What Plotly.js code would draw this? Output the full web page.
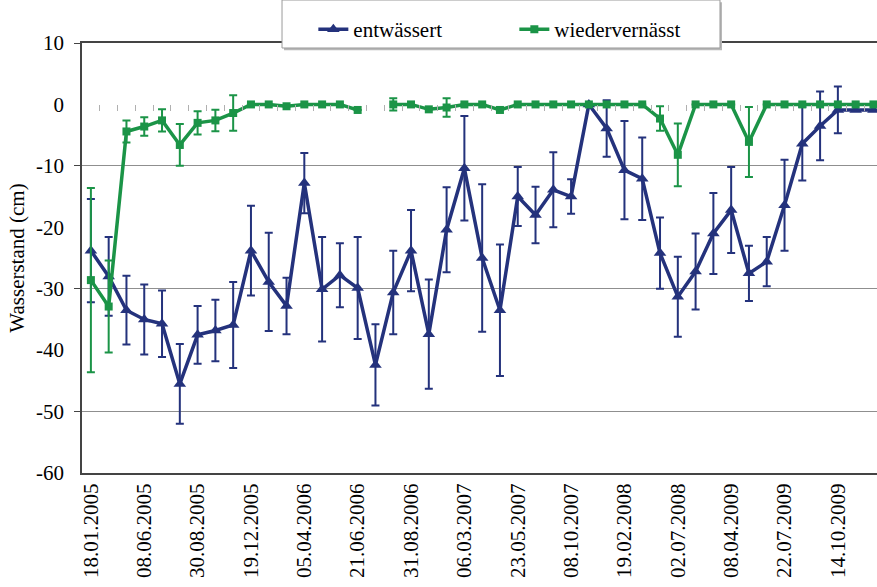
<!DOCTYPE html>
<html>
<head>
<meta charset="utf-8">
<script src="https://cdn.plot.ly/plotly-3.0.1.min.js"></script>
</head>
<body style="margin:0;background:#fff">
<div id="chart" style="width:877px;height:587px"></div>
<script>
// Tick labels (every third sampling date)
const tickLabels = ["18.01.2005","08.06.2005","30.08.2005","19.12.2005","05.04.2006","21.06.2006","31.08.2006","06.03.2007","23.05.2007","08.10.2007","19.02.2008","02.07.2008","08.04.2009","22.07.2009","14.10.2009"];
const labelStep = 3;
const yTickVals = [-60,-50,-40,-30,-20,-10,0,10];
const yTickText = ["-60","-50","-40","-30","-20","-10","0","10"];

// entwässert (drained) – mean water level (cm) and error
const drainedMean = [-23.8,-28.0,-33.5,-35.0,-35.7,-45.5,-37.5,-36.8,-35.9,-23.8,-28.9,-32.8,-12.8,-30.1,-27.8,-29.9,-42.4,-30.6,-23.8,-37.4,-20.4,-10.4,-25.0,-33.5,-15.0,-18.0,-13.9,-15.0,0.0,-3.9,-10.7,-12.1,-24.2,-31.3,-27.2,-21.0,-17.2,-27.5,-25.6,-16.4,-6.4,-3.5,-0.9,-0.9,-0.9];
const drainedErr  = [8.4,6.4,5.6,5.7,5.4,6.5,4.7,5.0,7.0,7.3,8.0,4.6,4.9,8.5,5.2,8.3,6.6,6.8,6.6,8.9,6.9,8.5,12.0,10.7,4.8,4.6,6.1,2.8,null,4.6,8.0,6.7,5.8,6.5,6.2,6.6,7.0,4.5,4.0,7.4,6.0,5.6,3.8,null,null];

// wiedervernässt (rewetted)
const rewetMean = [-28.6,-32.9,-4.4,-3.6,-2.6,-6.6,-3.0,-2.6,-1.4,0,0,-0.3,0,0,0,-0.9,null,0,0,-0.8,-0.5,0,0,-0.9,0,0,0,0,0,0,0,0,-2.3,-8.2,0,0,0,-6.1,0,0,0,0,0,0,0];
const rewetErr  = [15.0,7.5,1.8,1.5,1.8,3.4,1.9,1.75,2.9,null,null,null,null,null,null,null,null,1.0,null,null,1.5,null,null,null,null,null,null,null,null,null,null,null,2.0,5.1,null,null,null,5.7,null,null,null,null,null,null,null];

const idx = drainedMean.map((_, i) => i);
const tickVals = tickLabels.map((_, k) => k * labelStep);
const betweenVals = idx.map(i => i + 0.5);

const blue = '#24327c';
const green = '#1b9447';
const FAM = 'Liberation Serif';
const FS = 21;
const xRange = [-0.5, 44.2];
const yRange = [-60, 10];

const traces = [
  {
    name: 'entwässert', x: idx, y: drainedMean, type: 'scatter', mode: 'lines+markers',
    line: {color: blue, width: 3.5},
    marker: {symbol: 'triangle-up', size: 11, color: blue},
    error_y: {type: 'data', array: drainedErr, visible: true, color: blue, thickness: 2, width: 4}
  },
  {
    name: 'wiedervernässt', x: idx, y: rewetMean, type: 'scatter', mode: 'lines+markers',
    line: {color: green, width: 3.5},
    marker: {symbol: 'square', size: 8, color: green},
    error_y: {type: 'data', array: rewetErr, visible: true, color: green, thickness: 2, width: 4}
  },
  { x: [], y: [], xaxis: 'x2', yaxis: 'y2', showlegend: false, hoverinfo: 'skip', type: 'scatter' }
];

const zeroFrac = (0 - yRange[0]) / (yRange[1] - yRange[0]);

// legend frame (paper coordinates)
const legBox = {x0: 0.2516, x1: 0.8025, y0: 0.9884, y1: 1.10};
const shadow = {dx: 0.0025, dy: 0.005};

const layout = {
  width: 877, height: 587,
  margin: {l: 82, r: 0, t: 43, b: 114},
  paper_bgcolor: '#fff', plot_bgcolor: '#fff',
  font: {family: FAM, size: FS, color: '#000'},
  showlegend: true,
  legend: {
    orientation: 'h', x: 0.252, xanchor: 'left', y: 1.079, yanchor: 'top',
    bgcolor: 'rgba(0,0,0,0)', borderwidth: 0,
    font: {family: FAM, size: FS, color: '#000'},
    itemwidth: 30, entrywidth: 125, indentation: 31
  },
  shapes: [
    {type: 'rect', xref: 'paper', yref: 'paper', layer: 'above',
     x0: legBox.x0 + shadow.dx, x1: legBox.x1 + shadow.dx, y0: legBox.y0 - shadow.dy, y1: legBox.y1 - shadow.dy,
     fillcolor: '#b8b8b8', line: {width: 0}},
    {type: 'rect', xref: 'paper', yref: 'paper', layer: 'above',
     x0: legBox.x0, x1: legBox.x1, y0: legBox.y0, y1: legBox.y1,
     fillcolor: '#fff', line: {color: '#9a9a9a', width: 1}}
  ],
  xaxis: {
    range: xRange, tickmode: 'array', tickvals: tickVals, ticktext: tickLabels,
    tickangle: -90, ticks: '', showgrid: false, zeroline: false,
    showline: true, linecolor: '#444', linewidth: 2, mirror: true,
    tickfont: {family: FAM, size: FS, color: '#000'}
  },
  yaxis: {
    range: yRange, tickmode: 'array', tickvals: yTickVals, ticktext: yTickText,
    ticks: 'outside', ticklen: 12, tickcolor: 'rgba(0,0,0,0)',
    showgrid: false, zeroline: false, showline: true, linecolor: '#444', linewidth: 1.5,
    tickfont: {family: FAM, size: FS, color: '#000'},
    title: {text: 'Wasserstand (cm)', font: {family: FAM, size: FS, color: '#000'}, standoff: 6}
  },
  xaxis2: {
    overlaying: 'x', anchor: 'free', position: zeroFrac, range: xRange,
    tickmode: 'array', tickvals: betweenVals, ticks: 'outside', ticklen: 6, tickcolor: '#b0b0b0', tickwidth: 1,
    showticklabels: false, showgrid: false, zeroline: false, showline: false
  },
  yaxis2: {
    overlaying: 'y', anchor: 'x', side: 'left', range: yRange, tick0: 10, dtick: 20,
    ticks: 'outside', ticklen: 7, tickcolor: '#444', showticklabels: false,
    showgrid: true, gridcolor: '#8f8f8f', gridwidth: 1, zeroline: false, showline: false
  }
};

Plotly.newPlot('chart', traces, layout, {displayModeBar: false});
</script>
</body>
</html>
